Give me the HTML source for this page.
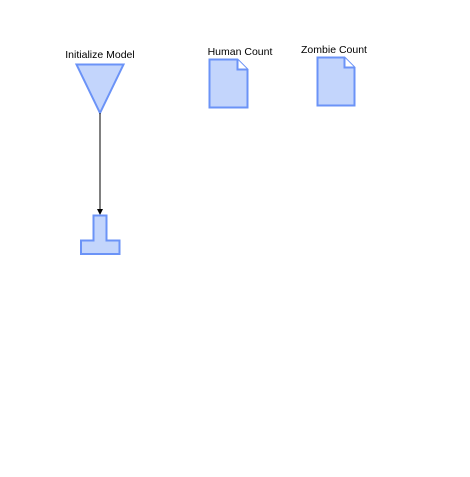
<!DOCTYPE html>
<html><head><meta charset="utf-8"><style>
html,body{margin:0;padding:0;background:#fff;width:470px;height:477px;overflow:hidden}
svg text{font-family:"Liberation Sans","DejaVu Sans",sans-serif;font-size:10.5px;fill:#000}
</style></head><body>
<svg width="470" height="477" viewBox="0 0 470 477">
<g>
<text x="100" y="58" text-anchor="middle">Initialize Model</text>
<polygon points="76.5,64.5 123.5,64.5 100,113" fill="#c3d5fc" stroke="#6b93f7" stroke-width="2"/>
</g>
<line x1="100" y1="113" x2="100" y2="210" stroke="#000" stroke-width="1"/>
<polygon points="97,209 103,209 100,215" fill="#000"/>
<path d="M93.5,215.5 H106.5 V240.5 H119.5 V254 H81 V240.5 H93.5 Z" fill="#c3d5fc" stroke="#6b93f7" stroke-width="2"/>
<g>
<text x="240" y="55" text-anchor="middle">Human Count</text>
<path d="M209.5,59.5 H237.5 L247.5,69.5 V107.5 H209.5 Z" fill="#c3d5fc" stroke="#6b93f7" stroke-width="2"/>
<path d="M237.5,59.5 V69.5 H247.5" fill="#fff" stroke="#6b93f7" stroke-width="2"/>
</g>
<g>
<text x="334" y="53" text-anchor="middle">Zombie Count</text>
<path d="M317.5,57.5 H344.5 L354.5,67.5 V105.5 H317.5 Z" fill="#c3d5fc" stroke="#6b93f7" stroke-width="2"/>
<path d="M344.5,57.5 V67.5 H354.5" fill="#fff" stroke="#6b93f7" stroke-width="2"/>
</g>
</svg>
</body></html>
